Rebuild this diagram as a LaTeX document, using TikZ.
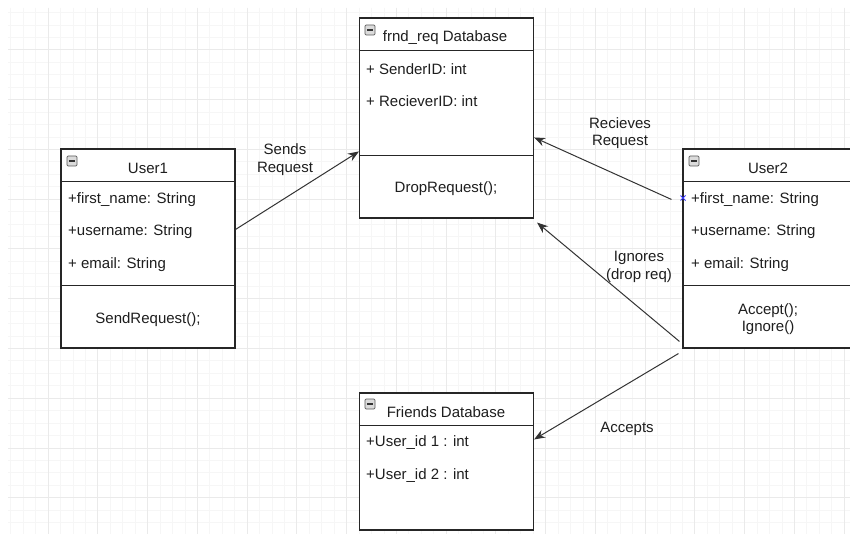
\documentclass[tikz,border=0pt]{standalone}
\usepackage{fontspec}
\setmainfont{Liberation Sans}
\usetikzlibrary{arrows.meta,calc}
\definecolor{minorgrid}{HTML}{F6F6F6}
\definecolor{majorgrid}{HTML}{EAEAEA}
\definecolor{txtcol}{HTML}{1E1E1E}
\begin{document}
\begin{tikzpicture}[x=1pt,y=-1pt,
  classbox/.style={draw=black!85, line width=1.1pt, fill=white, inner sep=0pt, minimum width=174pt},
  divider/.style={draw=black!85, line width=1.1pt},
  txt/.style={font=\fontsize{15}{17.5}\selectfont, inner sep=0pt, text=txtcol, yshift=-1.5pt},
  attr/.style={txt, anchor=west},
  lbl/.style={txt, align=center},
  conn/.style={draw=black!80, line width=1pt, -{Stealth[length=11pt,width=8.5pt]}},
  icon/.style={draw=gray!70!black, fill=gray!28, rounded corners=1.2pt, minimum size=10pt, inner sep=0pt, line width=0.7pt},
  mgrid/.style={draw=minorgrid, line width=1pt},
  Mgrid/.style={draw=majorgrid, line width=1pt}]
\useasboundingbox (0,0) rectangle (850,534);
\clip (0,0) rectangle (850,534);
\fill[white] (0,0) rectangle (850,534);
% grid
\begin{scope}
  \clip (8,8) rectangle (850,534);
  \foreach \i in {-4,...,66} \draw[mgrid] ({48.2+\i*12.4375},8) -- ({48.2+\i*12.4375},534);
  \foreach \j in {-4,...,40} \draw[mgrid] (8,{50+\j*12.4375}) -- (850,{50+\j*12.4375});
  \foreach \i in {-1,...,16} \draw[Mgrid] ({48.2+\i*49.75},8) -- ({48.2+\i*49.75},534);
  \foreach \j in {-1,...,10} \draw[Mgrid] (8,{50+\j*49.75}) -- (850,{50+\j*49.75});
\end{scope}

% User1
\node[classbox, minimum height=199pt] (u1) at (148,248.5) {};
\draw[divider] ($(u1.north west)+(0,33)$) -- ($(u1.north east)+(0,33)$);
\draw[divider] ($(u1.north west)+(0,137)$) -- ($(u1.north east)+(0,137)$);
\node[icon] (u1i) at (72,161) {};
\draw[line width=1.2pt, black!80] ($(u1i.west)+(2.2,0)$) -- ($(u1i.east)+(-2.2,0)$);
\node[txt] (u1t) at (148,167) {User1};
\node[attr] (u1a) at (68,198) {+first\_name: String};
\node[attr] (u1b) at (68,230) {+username: String};
\node[attr] (u1c) at (68,263) {+ email: String};
\node[txt] (u1m) at (148,318) {SendRequest();};

% frnd_req Database
\node[classbox, minimum height=200pt] (fr) at (446.5,118) {};
\draw[divider] ($(fr.north west)+(0,33)$) -- ($(fr.north east)+(0,33)$);
\draw[divider] ($(fr.north west)+(0,138)$) -- ($(fr.north east)+(0,138)$);
\node[icon] (fri) at (370,30) {};
\draw[line width=1.2pt, black!80] ($(fri.west)+(2.2,0)$) -- ($(fri.east)+(-2.2,0)$);
\node[txt] (frt) at (445,36) {frnd\_req Database};
\node[attr] (fra) at (366,68) {+ SenderID: int};
\node[attr] (frb) at (366,100) {+ RecieverID: int};
\node[txt] (frm) at (446,187) {DropRequest();};

% User2
\node[classbox, minimum height=199pt] (u2) at (770,248.5) {};
\draw[divider] ($(u2.north west)+(0,33)$) -- ($(u2.north east)+(0,33)$);
\draw[divider] ($(u2.north west)+(0,137)$) -- ($(u2.north east)+(0,137)$);
\node[icon] (u2i) at (694,161) {};
\draw[line width=1.2pt, black!80] ($(u2i.west)+(2.2,0)$) -- ($(u2i.east)+(-2.2,0)$);
\node[txt] (u2t) at (768,167) {User2};
\node[attr] (u2a) at (691,198) {+first\_name: String};
\node[attr] (u2b) at (691,230) {+username: String};
\node[attr] (u2c) at (691,263) {+ email: String};
\node[lbl] (u2m) at (768,317.5) {Accept();\\Ignore()};
\coordinate (mk) at (683,198);
\draw[blue!80, line width=0.8pt] ($(mk)+(-2.5,-2.5)$) -- ($(mk)+(2.5,2.5)$) ($(mk)+(-2.5,2.5)$) -- ($(mk)+(2.5,-2.5)$);

% Friends Database
\node[classbox, minimum height=137pt] (fd) at (446.5,461.5) {};
\draw[divider] ($(fd.north west)+(0,33)$) -- ($(fd.north east)+(0,33)$);
\node[icon] (fdi) at (370,404) {};
\draw[line width=1.2pt, black!80] ($(fdi.west)+(2.2,0)$) -- ($(fdi.east)+(-2.2,0)$);
\node[txt] (fdt) at (446,411) {Friends Database};
\node[attr] (fda) at (366,441) {+User\_id 1 : int};
\node[attr] (fdb) at (366,474) {+User\_id 2 : int};

% connectors
\draw[conn] ($(u1.north east)+(0,81)$) -- ($(fr.north west)+(0,134)$);
\node[lbl] (l1) at (285,158) {Sends\\Request};
\draw[conn] ($(u2.north west)+(-11,51)$) -- ($(fr.north east)+(0,120)$);
\node[lbl] (l2) at (620,131.5) {Recieves\\Request};
\draw[conn] ($(u2.north west)+(-3,193)$) -- ($(fr.south east)+(3,4)$);
\node[lbl] (l3) at (639,265.5) {Ignores\\(drop req)};
\draw[conn] ($(u2.south west)+(-4,5)$) -- ($(fd.north east)+(0,47)$);
\node[txt] (l4) at (627,427) {Accepts};
\end{tikzpicture}
\end{document}
